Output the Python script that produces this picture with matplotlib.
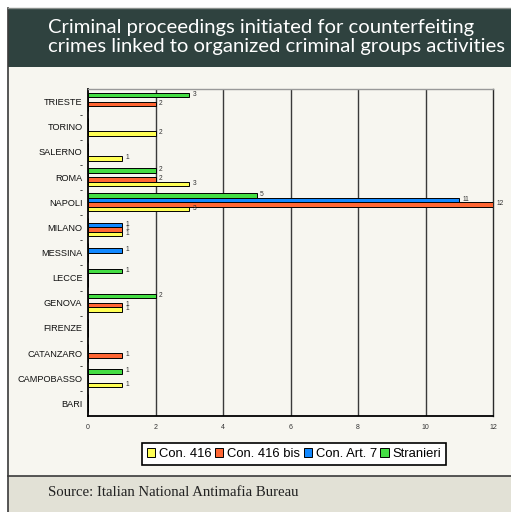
import matplotlib
matplotlib.use("Agg")
import matplotlib.pyplot as plt
from matplotlib.patches import Rectangle
from matplotlib.lines import Line2D
import numpy as np

# Cities listed bottom to top on the chart
cities = ["BARI", "CAMPOBASSO", "CATANZARO", "FIRENZE", "GENOVA", "LECCE",
          "MESSINA", "MILANO", "NAPOLI", "ROMA", "SALERNO", "TORINO", "TRIESTE"]

con_416 = [0, 1, 0, 0, 1, 0, 0, 1, 3, 3, 1, 2, 0]
con_416_bis = [0, 0, 1, 0, 1, 0, 0, 1, 12, 2, 0, 0, 2]
con_art7 = [0, 0, 0, 0, 0, 0, 1, 1, 11, 0, 0, 0, 0]
stranieri = [0, 1, 0, 0, 2, 1, 0, 0, 5, 2, 0, 0, 3]

series_names = ["Con. 416", "Con. 416 bis", "Con. Art. 7", "Stranieri"]
series_values = [con_416, con_416_bis, con_art7, stranieri]
series_colors = ["#ffff55", "#ff6633", "#1188ff", "#44dd44"]

x_ticks = [0, 2, 4, 6, 8, 10, 12]

title = "Criminal proceedings initiated for counterfeiting\ncrimes linked to organized criminal groups activities"
source = "Source: Italian National Antimafia Bureau"

W, H = 511, 512
fig = plt.figure(figsize=(W / 100, H / 100), dpi=100, facecolor="white")


def fx(px):
    return px / W


def fy(py):
    return 1 - py / H


# Panel backgrounds
fig.patches.append(Rectangle((fx(8), 0), 1 - fx(8), fy(8), transform=fig.transFigure,
                             facecolor="#f7f6f0", edgecolor="none", zorder=0))
fig.patches.append(Rectangle((fx(8), fy(67)), 1 - fx(8), fy(8) - fy(67), transform=fig.transFigure,
                             facecolor="#2f423f", edgecolor="none", zorder=1))
fig.patches.append(Rectangle((fx(8), 0), 1 - fx(8), fy(476), transform=fig.transFigure,
                             facecolor="#e2e1d6", edgecolor="none", zorder=1))
fig.lines.append(Line2D([fx(8), 1], [fy(476), fy(476)], transform=fig.transFigure,
                        color="#3a3a3a", lw=1.2, zorder=2))
fig.lines.append(Line2D([fx(8), fx(8)], [0, fy(8)], transform=fig.transFigure,
                        color="#3a3a3a", lw=1.2, zorder=2))
fig.lines.append(Line2D([fx(8), 1], [fy(8), fy(8)], transform=fig.transFigure,
                        color="#8a8f8c", lw=1.0, zorder=2))

fig.text(fx(48), fy(37), title, color="white", fontsize=14.6, family="Lato",
         ha="left", va="center", linespacing=1.15, zorder=3)
fig.text(fx(48), fy(493), source, color="#222222", fontsize=10.6, family="Liberation Serif",
         ha="left", va="center", zorder=3)

ax = fig.add_axes([fx(88), fy(416), fx(493) - fx(88), fy(89) - fy(416)])
ax.set_facecolor("#f7f6f0")
ax.set_zorder(3)

n = len(cities)
y = np.arange(n)
bar_h = 0.18
offsets = [-1.5 * bar_h, -0.5 * bar_h, 0.5 * bar_h, 1.5 * bar_h]

for vals, off, col, name in zip(series_values, offsets, series_colors, series_names):
    bars = ax.barh(y + off, vals, height=bar_h, color=col, edgecolor="black",
                   linewidth=0.7, label=name, zorder=3)
    for b, v in zip(bars, vals):
        if v > 0:
            ax.text(v + 0.1, b.get_y() + b.get_height() / 2 + 0.03, str(v), fontsize=4.8,
                    family="Liberation Sans", color="#333333", ha="left", va="center",
                    clip_on=False, zorder=4)

ax.set_xlim(0, 12)
ax.set_ylim(-0.5, n - 0.5)
ax.set_xticks(x_ticks)
ax.set_xticklabels([str(t) for t in x_ticks], fontsize=5, family="Liberation Sans",
                   color="#333333")
ax.tick_params(axis="x", length=0, pad=6)

# City labels at group centres, dashes at group boundaries
ytick_pos = list(y) + list(np.arange(n - 1) + 0.5)
ytick_lab = cities + ["-"] * (n - 1)
ax.set_yticks(ytick_pos)
ax.set_yticklabels(ytick_lab, fontsize=6.6, family="Liberation Sans", color="#111111")
ax.tick_params(axis="y", length=0, pad=4)

for t in x_ticks[1:-1]:
    ax.axvline(t, color="#3a3a3a", lw=1.0, zorder=1)

for side in ["left", "bottom"]:
    ax.spines[side].set_color("black")
    ax.spines[side].set_linewidth(1.3)
ax.spines["right"].set_color("#2a2a2a")
ax.spines["right"].set_linewidth(1.0)
ax.spines["top"].set_color("#999999")
ax.spines["top"].set_linewidth(1.0)

leg = fig.legend(loc="center", bbox_to_anchor=(fx(294), fy(454)), ncol=4,
                 prop={"family": "Liberation Sans", "size": 9.4},
                 frameon=True, fancybox=False, edgecolor="black", facecolor="white",
                 handlelength=0.65, handleheight=0.65, handletextpad=0.3,
                 columnspacing=0.25, borderpad=0.35, borderaxespad=0)
leg.get_frame().set_linewidth(1.2)
leg.get_frame().set_alpha(1)
leg.set_zorder(5)

fig.savefig("out.png", dpi=100, facecolor=fig.get_facecolor())
